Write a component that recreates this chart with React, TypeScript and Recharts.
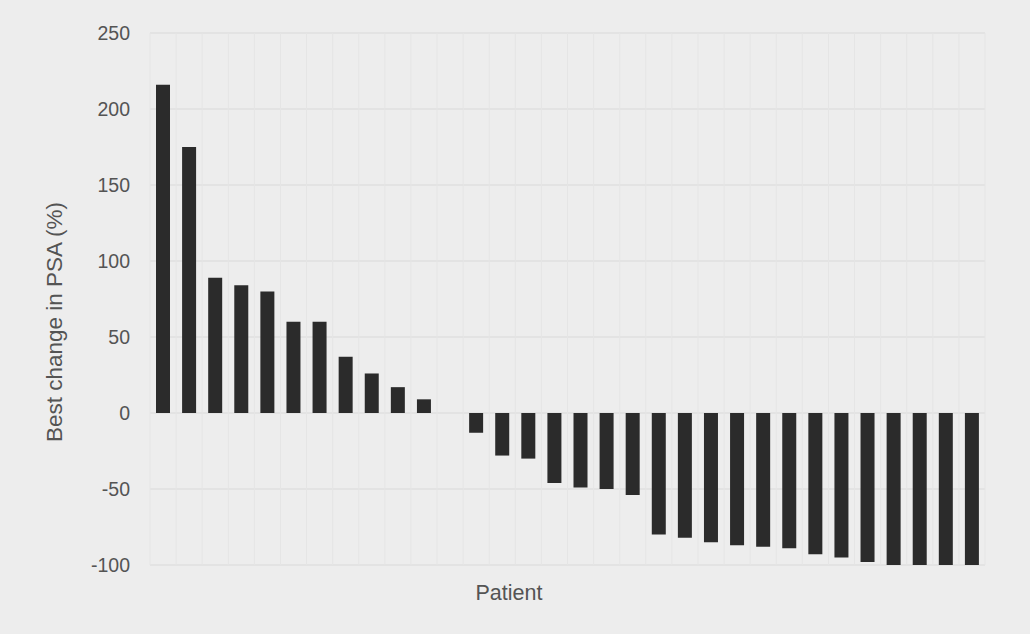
import { Bar, BarChart, CartesianGrid, Label, XAxis, YAxis } from "recharts";

// one entry per patient, sorted by best PSA change (patient 12 had no change)
const patients = Array.from({ length: 32 }, (_, i) => `P${i + 1}`);
const psaChange = [
  216, 175, 89, 84, 80, 60, 60, 37, 26, 17, 9,
  0,
  -13, -28, -30, -46, -49, -50, -54, -80, -82, -85, -87, -88, -89, -93, -95, -98,
  -100, -100, -100, -100,
];
const yTicks = [-100, -50, 0, 50, 100, 150, 200, 250];

const data = patients.map((p, i) => ({ patient: p, change: psaChange[i] }));

const TEXT = "#545454";
const FONT = "'Liberation Sans', Arial, sans-serif";

export default function App() {
  return (
    <div
      style={{
        position: "absolute",
        left: 0,
        top: 0,
        width: 1030,
        height: 634,
        background: "#ededed",
        fontFamily: FONT,
      }}
    >
      <BarChart
        width={1030}
        height={634}
        data={data}
        margin={{ top: 33, right: 45, left: 90, bottom: 0 }}
        barCategoryGap={0}
      >
        <CartesianGrid
          stroke="#dfdfdf"
          strokeWidth={1.5}
          vertical={false}
        />
        <CartesianGrid
          stroke="#e5e5e5"
          horizontal={false}
          verticalCoordinatesGenerator={({ offset }: any) =>
            Array.from(
              { length: patients.length + 1 },
              (_, i) => offset.left + (i * offset.width) / patients.length
            )
          }
        />
        <XAxis
          dataKey="patient"
          height={69}
          tick={false}
          tickLine={false}
          axisLine={false}
        >
          <Label
            content={({ viewBox }: any) => (
              <text
                x={viewBox.x + 359}
                y={viewBox.y + 35}
                textAnchor="middle"
                fill={TEXT}
                fontSize={21.5}
                fontFamily={FONT}
              >
                Patient
              </text>
            )}
          />
        </XAxis>
        <YAxis
          width={60}
          domain={[-100, 250]}
          ticks={yTicks}
          tickLine={false}
          axisLine={false}
          tickSize={0}
          tickMargin={20}
          tick={{ fill: TEXT, fontSize: 19.5, fontFamily: FONT }}
        >
          <Label
            content={() => (
              <text
                x={62}
                y={322}
                transform="rotate(-90, 62, 322)"
                textAnchor="middle"
                fill={TEXT}
                fontSize={22.5}
                fontFamily={FONT}
              >
                Best change in PSA (%)
              </text>
            )}
          />
        </YAxis>
        <Bar dataKey="change" fill="#2b2b2b" barSize={14} isAnimationActive={false} />
      </BarChart>
    </div>
  );
}
